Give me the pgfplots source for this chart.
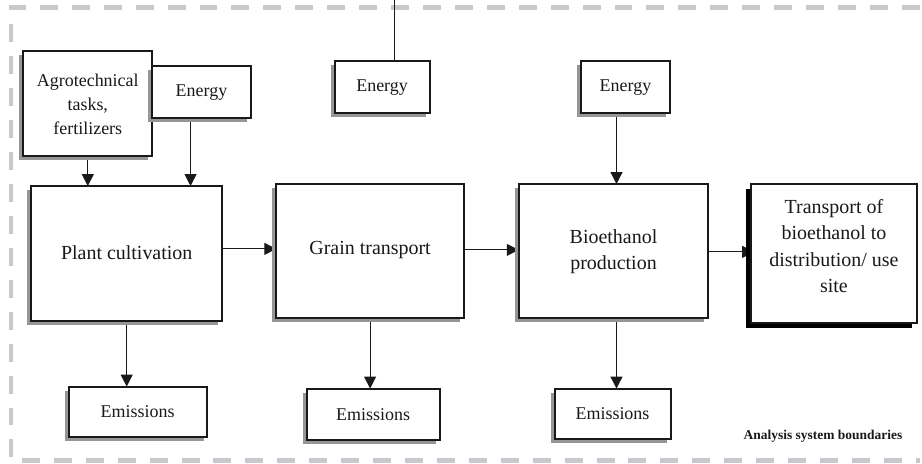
\documentclass[border=0pt]{standalone}
\usepackage{fontspec}
\setmainfont{Liberation Serif}
\usepackage{pgfplots}
\pgfplotsset{compat=1.18}
\usetikzlibrary{arrows.meta}
\definecolor{boxline}{RGB}{25,25,25}
\definecolor{bound}{RGB}{200,200,205}
\definecolor{shad}{RGB}{150,150,150}
\newcommand{\bigtxt}{\fontsize{20bp}{26.5bp}\selectfont}
\newcommand{\smltxt}{\fontsize{18bp}{24bp}\selectfont}
% box: x1,y1,x2,y2 (pixels, y from top)
\newcommand{\gbox}[4]{%
  \fill[shad] ([shift={(-4bp,-4bp)}]axis cs:#1,#2) rectangle ([shift={(-4bp,-4bp)}]axis cs:#3,#4);
  \filldraw[fill=white,draw=boxline,line width=2bp] (axis cs:#1,#2) rectangle (axis cs:#3,#4);}
\begin{document}
\begin{tikzpicture}
\begin{axis}[
  width=922bp, height=464bp, scale only axis,
  xmin=0, xmax=922, ymin=0, ymax=464, y dir=reverse,
  hide axis, clip=false,
]
\addplot[draw=none, forget plot] coordinates {(0,0) (922,464)};
% boundary
\draw[bound, line width=4.5bp, dash pattern=on 18bp off 14bp]
  (axis cs:922,7) -- (axis cs:11,7) -- (axis cs:11,461) -- (axis cs:922,461);
% arrows
\tikzset{arr/.style={draw=boxline, line width=1bp, -{Triangle[width=12bp,length=12bp]}}}
\draw[arr] (axis cs:88,156) -- (axis cs:88,186);
\draw[arr] (axis cs:191,118) -- (axis cs:191,186);
\draw[draw=boxline, line width=1bp] (axis cs:395,0) -- (axis cs:395,61);
\draw[arr] (axis cs:618,113) -- (axis cs:618,184);
\draw[arr] (axis cs:223,249) -- (axis cs:277,249);
\draw[arr] (axis cs:465,250) -- (axis cs:520,250);
\draw[arr] (axis cs:707,252) -- (axis cs:756,252);
\draw[arr] (axis cs:127,321) -- (axis cs:127,387);
\draw[arr] (axis cs:371,318) -- (axis cs:371,389);
\draw[arr] (axis cs:618,318) -- (axis cs:618,389);
% boxes
\gbox{23}{51}{152}{156}
\gbox{152}{66}{252}{118}
\gbox{336}{61}{431}{113}
\gbox{582}{61}{672}{113}
\gbox{31}{186}{223}{321}
\gbox{277}{184}{465}{318}
\gbox{520}{184}{710}{318}
\gbox{69}{387}{208}{438}
\gbox{308}{389}{441}{441}
\gbox{556}{389}{673}{440}
\fill[black] ([shift={(-5bp,-5bp)}]axis cs:753,184) rectangle ([shift={(-5bp,-5bp)}]axis cs:919,323);
\filldraw[fill=white,draw=boxline,line width=2bp] (axis cs:753,184) rectangle (axis cs:919,323);
% texts
\node[align=center, text=boxline, font=\smltxt] at (axis cs:88,104) {Agrotechnical\\tasks,\\fertilizers};
\node[text=boxline, font=\smltxt] at (axis cs:202,92) {Energy};
\node[text=boxline, font=\smltxt] at (axis cs:383,87) {Energy};
\node[text=boxline, font=\smltxt] at (axis cs:627,87) {Energy};
\node[text=boxline, font=\bigtxt] at (axis cs:127,253) {Plant cultivation};
\node[text=boxline, font=\bigtxt] at (axis cs:371,250) {Grain transport};
\node[align=center, text=boxline, font=\bigtxt] at (axis cs:615,252) {Bioethanol\\production};
\node[align=center, text=boxline, font=\bigtxt] at (axis cs:836,246) {Transport of\\bioethanol to\\distribution/ use\\site};
\node[text=boxline, font=\smltxt] at (axis cs:138,412) {Emissions};
\node[text=boxline, font=\smltxt] at (axis cs:374,415) {Emissions};
\node[text=boxline, font=\smltxt] at (axis cs:614,414) {Emissions};
\node[anchor=east, text=boxline, font=\fontsize{13.5bp}{16bp}\selectfont\bfseries] at (axis cs:908,437) {Analysis system boundaries};
\end{axis}
\end{tikzpicture}
\end{document}
